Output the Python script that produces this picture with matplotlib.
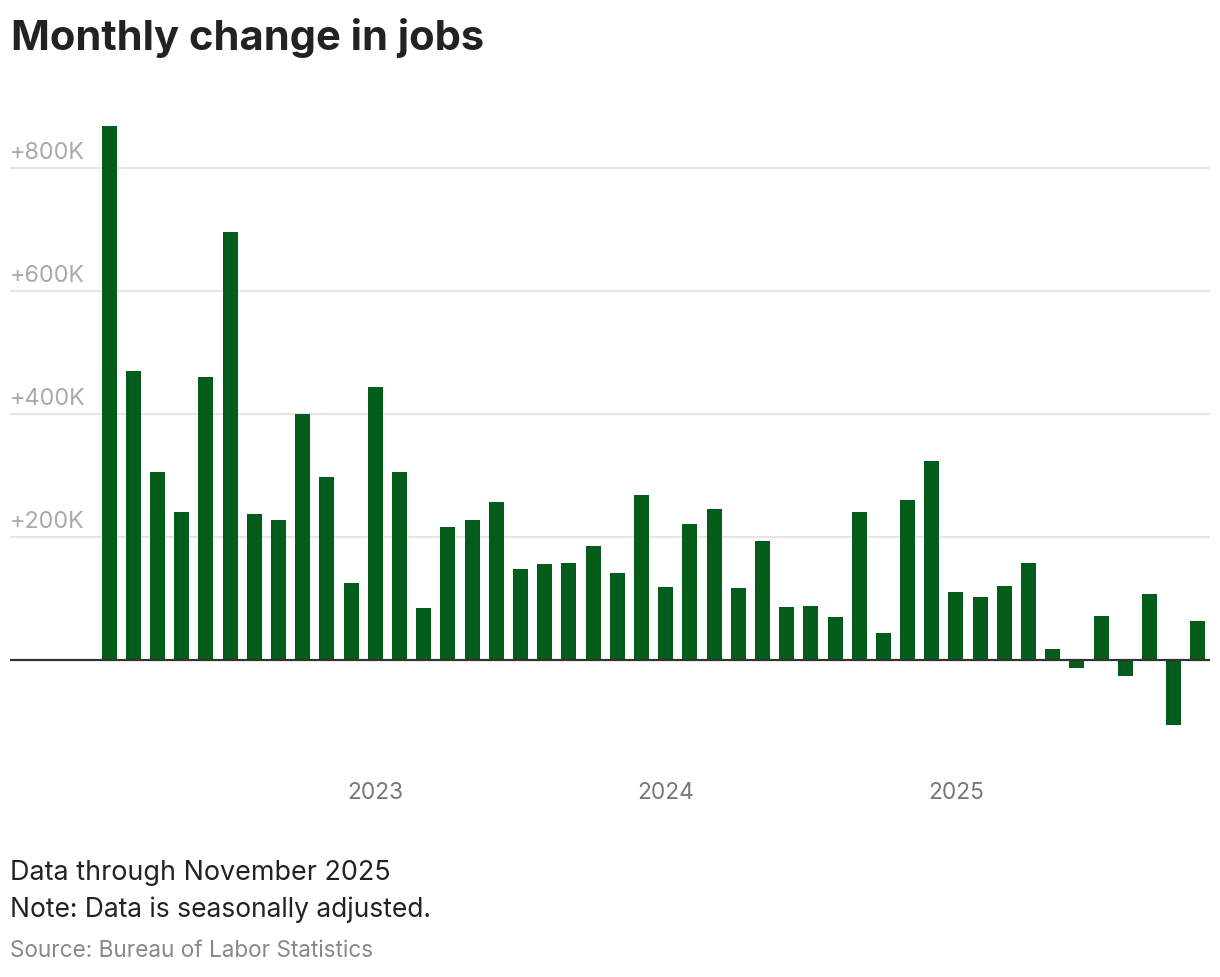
import matplotlib
matplotlib.use("Agg")
import matplotlib.pyplot as plt
import matplotlib.transforms as mtransforms

# Monthly change in jobs (thousands), Feb 2022 - Nov 2025
months = ["2022-02", "2022-03", "2022-04", "2022-05", "2022-06", "2022-07", "2022-08",
          "2022-09", "2022-10", "2022-11", "2022-12",
          "2023-01", "2023-02", "2023-03", "2023-04", "2023-05", "2023-06", "2023-07",
          "2023-08", "2023-09", "2023-10", "2023-11", "2023-12",
          "2024-01", "2024-02", "2024-03", "2024-04", "2024-05", "2024-06", "2024-07",
          "2024-08", "2024-09", "2024-10", "2024-11", "2024-12",
          "2025-01", "2025-02", "2025-03", "2025-04", "2025-05", "2025-06", "2025-07",
          "2025-08", "2025-09", "2025-10", "2025-11"]
changes = [868, 470, 305, 240, 460, 695, 237, 227, 399, 297, 125,
           443, 305, 84, 216, 227, 256, 147, 156, 157, 185, 141, 268,
           118, 221, 245, 116, 193, 86, 87, 69, 240, 43, 260, 323,
           110, 102, 120, 157, 17, -13, 71, -26, 107, -106, 63]
y_ticks = [200, 400, 600, 800]
y_tick_labels = ["+200K", "+400K", "+600K", "+800K"]
year_labels = ["2023", "2024", "2025"]

W, H = 1220, 978
plt.rcParams['font.family'] = ['Inter', 'DejaVu Sans']
fig = plt.figure(figsize=(W / 100, H / 100), dpi=100)

ax_left, ax_right = 10 / W, 1210 / W
ax_top, ax_bottom = 1 - 100 / H, 1 - 760 / H
ax = fig.add_axes([ax_left, ax_bottom, ax_right - ax_left, ax_top - ax_bottom])

x = list(range(len(changes)))
ax.bar(x, changes, width=0.62, color="#035C19", zorder=3)

ax.set_xlim(-4.1, len(changes) - 0.5)
ax.set_ylim(-161.5, 911.7)

for s in ax.spines.values():
    s.set_visible(False)

for yt in y_ticks:
    ax.axhline(yt, color="#e6e6e6", lw=1.5, zorder=1)
ax.axhline(0, color="#333333", lw=1.6, zorder=4)

ax.set_yticks([])
year_pos = [months.index(y + "-01") for y in year_labels]
ax.set_xticks(year_pos)
ax.set_xticklabels(year_labels, fontsize=16.3, color="#777777")
ax.tick_params(axis="x", length=0, pad=16)

trans = mtransforms.blended_transform_factory(ax.transAxes, ax.transData)
for yt, lab in zip(y_ticks, y_tick_labels):
    ax.text(0, yt, lab, transform=trans + mtransforms.ScaledTranslation(0, 4.5 / 100, fig.dpi_scale_trans),
            ha="left", va="bottom", fontsize=16.8, color="#aaaaaa", zorder=5)

fig.text(11 / W, 1 - 38 / H, "Monthly change in jobs", fontsize=30, fontweight="bold",
         color="#222222", ha="left", va="center")
fig.text(10 / W, 1 - 873 / H, "Data through November 2025", fontsize=19.4, color="#222222",
         ha="left", va="center")
fig.text(10 / W, 1 - 910 / H, "Note: Data is seasonally adjusted.", fontsize=19.0, color="#222222",
         ha="left", va="center")
fig.text(10 / W, 1 - 951 / H, "Source: Bureau of Labor Statistics", fontsize=16.2, color="#888888",
         ha="left", va="center")

fig.savefig("out.png", dpi=100)
